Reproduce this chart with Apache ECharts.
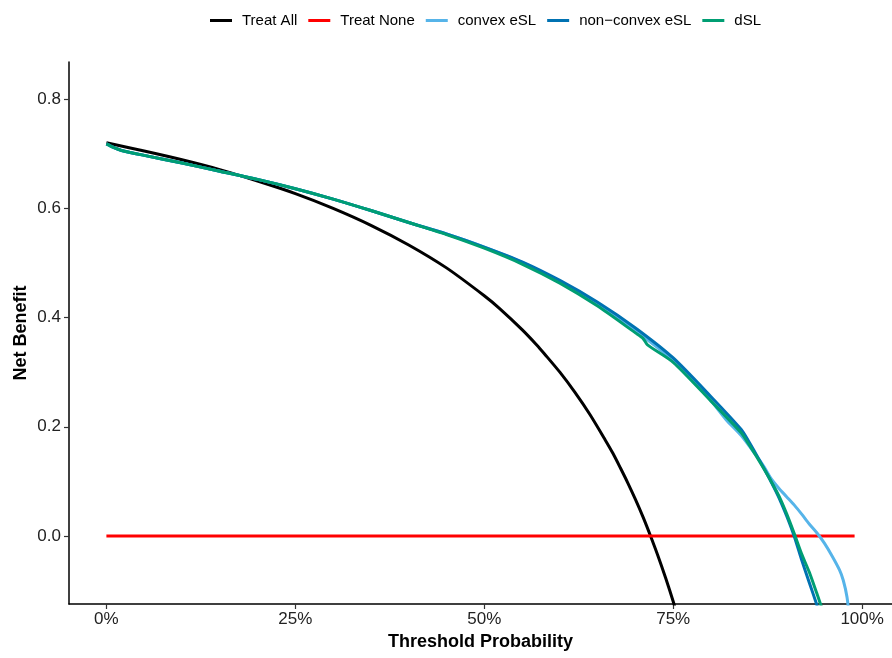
<!DOCTYPE html>
<html>
<head>
<meta charset="utf-8">
<script src="https://cdn.jsdelivr.net/npm/echarts@6/dist/echarts.min.js"></script>
<style>html,body{margin:0;padding:0;background:#fff;}#c{width:892px;height:658px;}</style>
</head>
<body>
<div id="c"></div>
<script>
// ---- data ----
var seriesNames = ['Treat All', 'Treat None', 'convex eSL', 'non\u2212convex eSL', 'dSL'];
var xTicks = [0, 0.25, 0.5, 0.75, 1];
var yTicks = [0, 0.2, 0.4, 0.6, 0.8];

var thrTreatAll = [0, 0.05, 0.10, 0.15, 0.20, 0.25, 0.30, 0.35, 0.40, 0.45, 0.50, 0.52, 0.55, 0.57, 0.58, 0.60, 0.62, 0.64, 0.66, 0.67, 0.68, 0.69, 0.70, 0.71, 0.72, 0.73, 0.74, 0.75, 0.76];
var nbTreatAll  = [0.720, 0.705, 0.689, 0.671, 0.650, 0.627, 0.600, 0.569, 0.533, 0.491, 0.440, 0.417, 0.378, 0.349, 0.333, 0.300, 0.263, 0.222, 0.176, 0.152, 0.125, 0.097, 0.067, 0.035, 0.000, -0.037, -0.077, -0.120, -0.167];

var thrTreatNone = [0, 0.99];
var nbTreatNone  = [0, 0];

var thrConvex = [0, 0.01, 0.02, 0.05, 0.10, 0.15, 0.20, 0.25, 0.30, 0.35, 0.40, 0.45, 0.50, 0.55, 0.60, 0.65, 0.70, 0.75, 0.78, 0.80, 0.82, 0.84, 0.86, 0.87, 0.88, 0.89, 0.90, 0.91, 0.92, 0.93, 0.94, 0.95, 0.96, 0.97, 0.975, 0.98, 0.983];
var nbConvex  = [0.718, 0.711, 0.706, 0.697, 0.683, 0.668, 0.653, 0.636, 0.617, 0.596, 0.574, 0.553, 0.529, 0.501, 0.466, 0.425, 0.376, 0.322, 0.281, 0.248, 0.213, 0.184, 0.147, 0.127, 0.104, 0.087, 0.072, 0.057, 0.040, 0.022, 0.006, -0.013, -0.036, -0.062, -0.081, -0.112, -0.150];

var thrNonConvex = [0, 0.01, 0.02, 0.05, 0.10, 0.15, 0.20, 0.25, 0.30, 0.35, 0.40, 0.45, 0.50, 0.55, 0.60, 0.65, 0.70, 0.75, 0.80, 0.84, 0.85, 0.86, 0.87, 0.88, 0.89, 0.90, 0.91, 0.92, 0.93, 0.94, 0.95];
var nbNonConvex  = [0.718, 0.711, 0.706, 0.697, 0.683, 0.668, 0.653, 0.636, 0.617, 0.596, 0.574, 0.553, 0.529, 0.502, 0.468, 0.428, 0.381, 0.326, 0.255, 0.195, 0.173, 0.149, 0.124, 0.098, 0.070, 0.037, 0.000, -0.044, -0.085, -0.126, -0.170];

var thrDSL = [0, 0.01, 0.02, 0.05, 0.10, 0.15, 0.20, 0.25, 0.30, 0.35, 0.40, 0.45, 0.50, 0.55, 0.60, 0.65, 0.70, 0.71, 0.716, 0.75, 0.80, 0.84, 0.85, 0.86, 0.87, 0.88, 0.89, 0.90, 0.91, 0.92, 0.93, 0.94, 0.95];
var nbDSL  = [0.718, 0.711, 0.706, 0.697, 0.683, 0.668, 0.653, 0.636, 0.617, 0.596, 0.574, 0.552, 0.527, 0.498, 0.463, 0.421, 0.372, 0.362, 0.350, 0.318, 0.247, 0.189, 0.168, 0.146, 0.123, 0.099, 0.073, 0.041, 0.005, -0.033, -0.066, -0.105, -0.145];

var colors = ['#000000', '#FF0000', '#56B4E9', '#0072B2', '#009E73'];

function pairs(xs, ys) { return xs.map(function (x, i) { return [x, ys[i]]; }); }
var allData = [
  pairs(thrTreatAll, nbTreatAll),
  pairs(thrTreatNone, nbTreatNone),
  pairs(thrConvex, nbConvex),
  pairs(thrNonConvex, nbNonConvex),
  pairs(thrDSL, nbDSL)
];

var chart = echarts.init(document.getElementById('c'), null, { renderer: 'canvas' });
var FONT = 'Liberation Sans, Arial, Helvetica, sans-serif';

var option = {
  animation: false,
  backgroundColor: '#ffffff',
  color: colors,
  legend: {
    top: 8,
    left: 205,
    icon: 'rect',
    itemWidth: 22,
    itemHeight: 3,
    itemGap: 11,
    textStyle: { fontFamily: FONT, fontSize: 15, color: '#000', padding: [0, 0, 0, 5] },
    data: seriesNames
  },
  grid: { left: 69, right: 0, top: 62, bottom: 54, containLabel: false },
  xAxis: {
    type: 'value',
    min: -0.0495,
    max: 1.0395,
    name: 'Threshold Probability',
    nameLocation: 'middle',
    nameGap: 29,
    nameMoveOverlap: false,
    nameTextStyle: { fontFamily: FONT, fontSize: 18, fontWeight: 'bold', color: '#000' },
    axisLine: { show: true, onZero: false, lineStyle: { color: '#000', width: 1.5 } },
    axisTick: { show: true, length: 5, lineStyle: { color: '#333', width: 1.2 }, customValues: xTicks },
    axisLabel: { show: true, margin: 7, fontFamily: FONT, fontSize: 17, color: '#222',
      customValues: xTicks,
      formatter: function (v) { return Math.round(v * 100) + '%'; } },
    splitLine: { show: false }
  },
  yAxis: {
    type: 'value',
    min: -0.1245,
    max: 0.868,
    name: 'Net Benefit',
    nameLocation: 'middle',
    nameGap: 39,
    nameMoveOverlap: false,
    nameRotate: 90,
    nameTextStyle: { fontFamily: FONT, fontSize: 18, fontWeight: 'bold', color: '#000' },
    axisLine: { show: true, onZero: false, lineStyle: { color: '#000', width: 1.5 } },
    axisTick: { show: true, length: 5, lineStyle: { color: '#333', width: 1.2 }, customValues: yTicks },
    axisLabel: { show: true, margin: 8, fontFamily: FONT, fontSize: 17, color: '#222',
      customValues: yTicks,
      formatter: function (v) { return v.toFixed(1); } },
    splitLine: { show: false }
  },
  series: seriesNames.map(function (n, i) {
    return {
      name: n,
      type: 'line',
      data: allData[i],
      showSymbol: false,
      symbol: 'none',
      smooth: i === 1 ? false : 0.25,
      clip: true,
      lineStyle: { width: 3, color: colors[i] },
      z: 2 + i
    };
  })
};
chart.setOption(option);
</script>
</body>
</html>
